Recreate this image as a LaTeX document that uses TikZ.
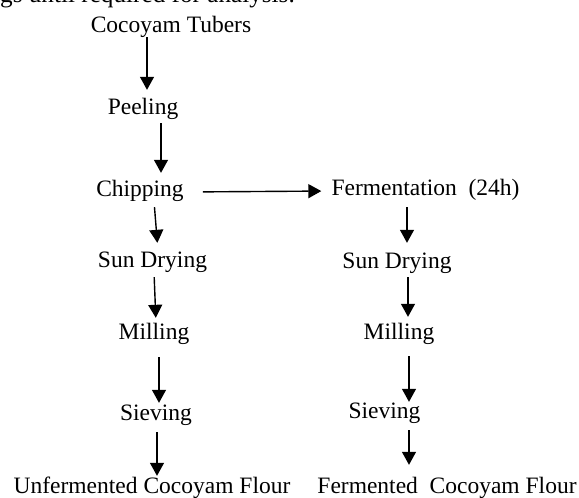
\documentclass[tikz,border=0pt]{standalone}
\usepackage{fontspec}
\setmainfont{Liberation Serif}
\usetikzlibrary{arrows.meta}

\begin{document}
\begin{tikzpicture}[x=1pt, y=-1pt,
    stage/.style = {inner sep=0pt, anchor=base, text height=16pt, text depth=5pt,
                    font=\fontsize{23.5}{28}\selectfont},
    flow/.style = {-{Triangle[length=13pt, width=14pt]}, line width=1.4pt,
                   shorten <= 5pt, shorten >= 6pt}]
  \useasboundingbox (0,0) rectangle (579,498);
  \clip (0,0) rectangle (579,498);

  % line of the page above the chart
  \node[stage, anchor=base east, font=\fontsize{25.2}{30}\selectfont] (prev) at (295,2) {gs until required for analysis.};

  \node[stage] (tubers) at (171,32)  {Cocoyam Tubers};
  \node[stage] (peel)   at (143,114) {Peeling};
  \node[stage] (chip)   at (140,196) {Chipping};
  \node[stage] (ferm)   at (425.5,195) {Fermentation~~(24h)};

  \node[stage] (dryA)   at (152.5,267) {Sun Drying};
  \node[stage] (millA)  at (154,339) {Milling};
  \node[stage] (sieveA) at (156,420) {Sieving};
  \node[stage] (flourA) at (152,493) {Unfermented Cocoyam Flour};

  \node[stage] (dryB)   at (397,268) {Sun Drying};
  \node[stage] (millB)  at (399,339) {Milling};
  \node[stage] (sieveB) at (384.5,418) {Sieving};
  \node[stage] (flourB) at (447,493) {Fermented~~Cocoyam Flour};

  \path[flow]
    ([xshift=-24pt]tubers.south) edge [shorten <= 0pt, shorten >= 8pt] ([xshift=4pt]peel.north)
    ([xshift=18pt]peel.south)    edge [shorten <= 4pt, shorten >= 7pt] ([xshift=21pt]chip.north)
    ([yshift=-1.5pt]chip.east)   edge [shorten <= 19pt, shorten >= 10pt] ([yshift=-1.5pt]ferm.west)
    % unfermented side
    ([xshift=14pt]chip.south)    edge [shorten <= 6pt, shorten >= 8pt] ([xshift=5.5pt]dryA.north)
    ([xshift=1.5pt]dryA.south)   edge [shorten >= 5pt] ([xshift=2pt]millA.north)
    ([xshift=5pt]millA.south)    edge [shorten <= 13pt, shorten >= 1pt] ([xshift=3pt]sieveA.north)
    ([xshift=1pt]sieveA.south)   edge [shorten <= 7pt, shorten >= 1pt] ([xshift=5pt]flourA.north)
    % fermented side
    ([xshift=-18.5pt]ferm.south) edge [shorten <= 7pt, shorten >= 9pt] ([xshift=10pt]dryB.north)
    ([xshift=11pt]dryB.south)    edge [shorten <= 4pt] ([xshift=9pt]millB.north)
    ([xshift=10pt]millB.south)   edge [shorten <= 12pt, shorten >= 0pt] ([xshift=24.5pt]sieveB.north)
    ([xshift=24.5pt]sieveB.south) edge [shorten <= 7pt, shorten >= 12pt] ([xshift=-38pt]flourB.north);
\end{tikzpicture}
\end{document}
